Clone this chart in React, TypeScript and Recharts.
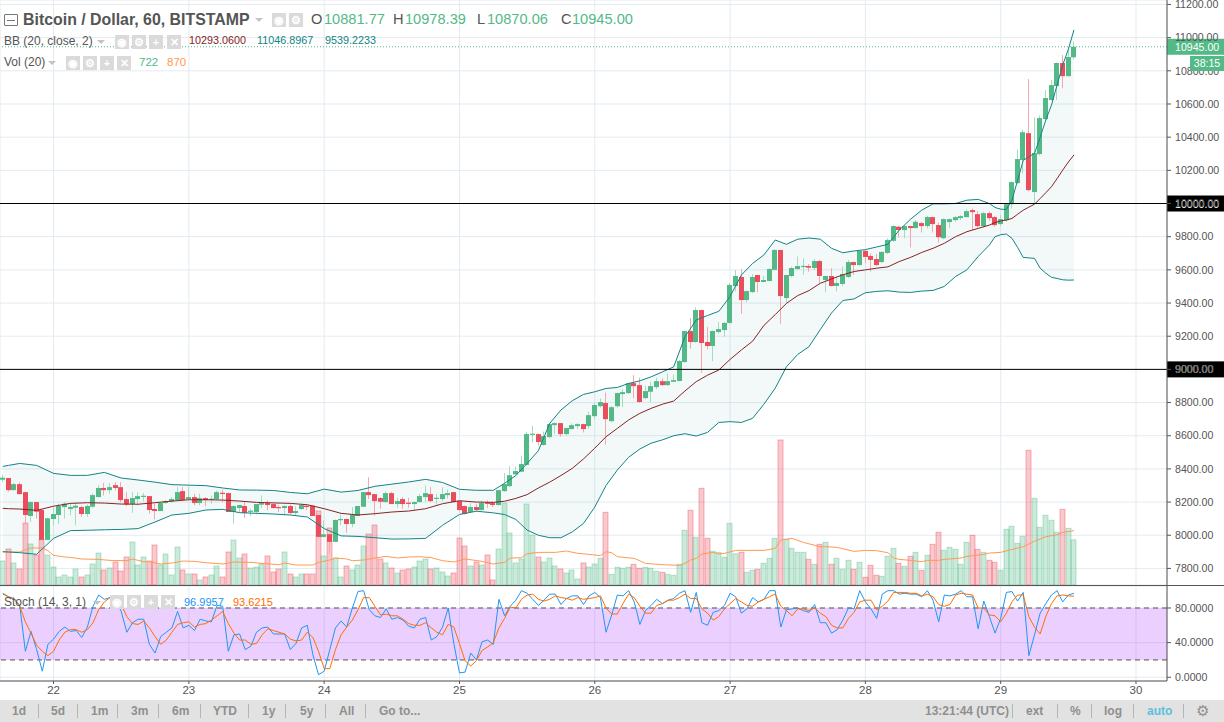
import React from "react";
import {
  ComposedChart, Bar, Line, Area, XAxis, YAxis, CartesianGrid,
  ReferenceLine, ReferenceArea, Label,
} from "recharts";

const opens = [
  8335,8345,8272,8308,8260,8116,8200,8152,7972,8098,
  8122,8170,8158,8166,8170,8128,8172,8230,8285,8272,
  8302,8290,8218,8188,8218,8234,8236,8158,8146,8194,
  8202,8212,8266,8218,8230,8194,8224,8216,8218,8256,
  8254,8140,8164,8176,8144,8140,8184,8194,8188,8170,
  8164,8176,8134,8158,8178,8178,8122,7990,8006,7960,
  8094,8098,8068,8116,8172,8260,8248,8224,8200,8254,
  8188,8218,8196,8188,8200,8230,8248,8222,8218,8242,
  8260,8206,8176,8140,8170,8152,8196,8194,8182,8266,
  8296,8367,8383,8424,8606,8610,8544,8592,8664,8676,
  8610,8640,8658,8670,8658,8718,8778,8797,8688,8778,
  8851,8857,8917,8905,8827,8865,8893,8929,8905,8925,
  8930,9044,9231,9165,9358,9165,9141,9225,9237,9280,
  9502,9557,9418,9466,9569,9527,9533,9600,9720,9430,
  9563,9605,9620,9623,9611,9653,9539,9563,9503,9515,
  9557,9647,9629,9714,9684,9665,9647,9702,9775,9860,
  9840,9864,9852,9882,9864,9918,9870,9791,9888,9900,
  9912,9918,9960,9936,9864,9942,9918,9876,9900,9996,
  10123,10262,10424,10069,10298,10509,10624,10708,10847,10768,10881.77,
];
const closes = [
  8347,8272,8308,8248,8122,8200,8142,7972,8102,8128,
  8176,8190,8170,8178,8128,8176,8242,8285,8272,8290,
  8285,8212,8186,8224,8236,8238,8152,8146,8194,8206,
  8218,8260,8212,8230,8194,8224,8212,8220,8260,8252,
  8140,8176,8182,8134,8148,8188,8194,8182,8164,8166,
  8176,8134,8146,8182,8170,8116,7990,8006,7960,8092,
  8098,8068,8122,8176,8260,8242,8206,8202,8254,8188,
  8206,8188,8192,8200,8236,8254,8206,8226,8248,8254,
  8200,8152,8128,8170,8152,8194,8192,8182,8272,8308,
  8362,8387,8429,8610,8612,8562,8598,8670,8676,8610,
  8646,8664,8670,8640,8724,8785,8803,8700,8772,8857,
  8863,8917,8899,8803,8869,8899,8929,8905,8929,8935,
  9050,9231,9165,9358,9159,9141,9231,9243,9280,9509,
  9563,9418,9472,9557,9527,9539,9605,9720,9442,9569,
  9611,9623,9624,9613,9653,9563,9563,9503,9521,9575,
  9647,9629,9714,9678,9660,9629,9708,9780,9864,9840,
  9864,9852,9890,9864,9918,9876,9797,9906,9906,9918,
  9924,9954,9948,9864,9942,9912,9870,9906,9996,10129,
  10268,10430,10081,10304,10515,10636,10714,10847,10768,10883,10945,
];
const highs = [
  8365,8345,8315,8320,8262,8205,8200,8160,8105,8170,
  8190,8200,8195,8200,8178,8186,8250,8302,8315,8315,
  8320,8320,8260,8260,8258,8255,8236,8190,8200,8212,
  8230,8290,8290,8290,8250,8250,8230,8240,8270,8275,
  8258,8180,8182,8200,8160,8190,8240,8210,8195,8180,
  8180,8185,8175,8190,8180,8178,8125,8090,8010,8095,
  8125,8100,8170,8178,8260,8350,8250,8230,8262,8262,
  8225,8230,8225,8205,8250,8300,8290,8250,8290,8275,
  8262,8206,8180,8195,8190,8210,8210,8205,8275,8375,
  8417,8415,8480,8624,8660,8612,8625,8680,8680,8676,
  8650,8675,8676,8672,8745,8800,8825,8860,8780,8860,
  8880,8920,8965,8950,8900,8925,8950,8945,8975,8970,
  9056,9235,9310,9375,9360,9255,9235,9285,9285,9520,
  9600,9605,9475,9575,9570,9565,9610,9725,9720,9570,
  9620,9680,9670,9635,9665,9660,9565,9610,9560,9620,
  9660,9650,9720,9720,9700,9695,9710,9790,9870,9865,
  9870,9866,9900,9890,9925,9920,9885,9910,9910,9925,
  9930,9965,9970,9955,9950,9952,9925,9930,10000,10135,
  10325,10445,10750,10520,10530,10685,10745,10850,10895,10930,10978.39,
];
const lows = [
  8320,8262,8270,8245,8060,8080,8100,7972,7970,8060,
  8065,8100,8120,8060,8110,8110,8165,8228,8240,8250,
  8270,8200,8175,8135,8180,8205,8130,8095,8146,8190,
  8198,8210,8212,8218,8180,8180,8175,8190,8210,8200,
  8140,8070,8135,8105,8115,8125,8165,8150,8160,8140,
  8120,8125,8120,8155,8150,8115,7988,7985,7890,7958,
  8060,8015,8048,8116,8170,8218,8118,8160,8195,8188,
  8165,8160,8165,8150,8198,8200,8200,8185,8205,8220,
  8200,8145,8125,8135,8140,8148,8165,8170,8180,8262,
  8290,8365,8380,8420,8560,8540,8540,8585,8610,8594,
  8600,8640,8640,8620,8640,8700,8770,8546,8680,8770,
  8772,8850,8825,8800,8820,8800,8880,8900,8900,8925,
  8928,9040,9125,9160,8980,9120,9050,9215,9195,9275,
  9470,9335,9405,9460,9465,9525,9530,9595,9275,9400,
  9555,9600,9570,9590,9600,9520,9465,9500,9470,9500,
  9550,9570,9625,9640,9590,9625,9640,9695,9770,9795,
  9790,9735,9850,9825,9850,9825,9765,9785,9850,9890,
  9900,9915,9840,9855,9855,9895,9860,9865,9890,9970,
  10120,10180,10075,9995,10290,10500,10620,10625,10695,10765,10870.06,
];
const volumes = [
  384,576,352,256,992,656,480,725,480,288,
  128,160,128,256,128,160,336,512,240,272,
  368,224,448,688,320,448,384,640,320,496,
  160,608,240,176,176,80,128,160,304,128,
  528,720,432,496,272,288,336,464,208,256,
  528,176,128,176,176,176,1184,464,912,432,
  128,304,240,320,624,816,960,416,352,272,
  192,240,256,288,384,416,256,272,208,144,
  192,752,624,304,368,320,480,80,576,1312,
  832,352,416,1296,800,448,368,432,304,256,
  192,240,96,352,288,336,427,1163,171,283,
  267,283,331,267,283,267,219,203,171,155,
  331,875,1195,763,1547,747,539,523,443,987,
  500,523,203,235,251,347,427,747,2320,731,
  587,523,523,411,331,651,683,331,427,251,
  395,251,363,123,315,155,139,459,587,347,
  299,459,523,235,475,651,843,555,603,571,
  331,683,795,571,523,395,363,235,891,939,
  667,779,2155,1387,923,1115,1035,843,1211,907,722,
];
const volMaIndex = [
  0,1,3,4,5,7,8,9,11,12,14,17,19,22,23,25,26,28,30,32,34,36,39,41,44,46,49,50,52,55,56,58,59,61,62,64,66,68,70,72,74,76,78,80,82,83,85,87,89,90,92,93,95,98,100,102,104,106,107,108,109,112,114,117,120,121,122,123,124,126,127,128,130,135,137,138,140,142,145,146,148,151,153,155,157,158,159,161,163,164,166,167,170,171,174,175,177,179,181,183,185,187,188,190,
];
const volMaValues = [
  528,528,528,565,592,592,549,474,448,442,416,410,394,389,416,373,373,336,352,384,378,357,336,368,362,346,325,352,320,320,362,400,432,416,389,400,432,458,432,448,453,437,389,368,416,405,378,336,362,432,437,501,522,522,544,506,490,470,533,517,453,426,346,325,314,346,400,426,496,522,496,506,554,554,586,720,746,682,613,613,602,538,554,549,517,432,410,394,373,394,394,410,432,458,490,512,522,570,613,700,773,805,842,870,
];
const bbIndex = [
  0,1,3,6,9,12,15,18,21,24,27,30,33,36,39,42,45,48,51,54,57,60,63,66,69,72,75,78,81,84,87,
  89,91,93,95,97,99,101,103,105,107,109,111,113,115,117,119,121,123,125,127,129,131,133,135,137,139,141,143,145,147,149,151,153,155,157,159,161,163,165,167,169,171,173,175,
  176,177,178,179,180,181,182,183,184,185,186,187,188,189,190,
];
const bbUpper = [
  8415,8421,8433,8421,8373,8361,8361,8379,8345,8333,8320,8305,8302,8299,8285,8273,8272,8270,8258,8250,8278,8260,8270,8295,8308,8321,8337,8318,8277,8271,8271,
  8313,8360,8433,8510,8674,8755,8811,8849,8865,8885,8891,8915,8931,8955,8985,9015,9197,9298,9325,9350,9440,9569,9639,9690,9780,9754,9785,9792,9785,9730,9703,9714,9722,9738,9754,9840,9905,9960,9998,9998,10000,10020,10025,10000,
  9976,9966,9964,10020,10140,10260,10282,10302,10400,10503,10593,10714,10835,10930,11047,
];
const bbLower = [
  7901,7899,7895,7885,7981,8028,8030,8033,8035,8040,8080,8122,8132,8152,8156,8136,8132,8128,8122,8110,8040,7996,7993,7985,7977,7978,7981,8060,8125,8145,8135,
  8125,8095,8031,8000,7985,7985,8020,8071,8170,8300,8393,8470,8520,8555,8575,8600,8612,8598,8620,8680,8685,8680,8705,8790,8886,9016,9090,9137,9240,9340,9415,9425,9462,9470,9474,9466,9464,9472,9476,9500,9560,9600,9680,9750,
  9800,9812,9816,9790,9735,9675,9672,9669,9610,9580,9555,9548,9540,9538,9539,
];
const bbBasis = [
  8162,8160,8158,8150,8175,8192,8196,8194,8188,8187,8196,8206,8214,8214,8212,8206,8198,8195,8192,8184,8160,8132,8122,8130,8140,8146,8160,8190,8208,8200,8198,
  8205,8222,8245,8285,8320,8360,8403,8460,8525,8594,8644,8695,8735,8765,8790,8809,8870,8926,8965,8996,9060,9117,9170,9265,9330,9398,9445,9475,9519,9545,9570,9590,9600,9610,9618,9650,9675,9705,9730,9760,9800,9830,9850,9870,
  9885,9895,9900,9910,9935,9960,9978,9996,10030,10065,10101,10150,10201,10250,10293,
];
const stochK = [
  97,93,91,83,30,53,32,7,38,44,53,58,53,54,46,58,82,95,90,92,90,76,52,63,67,67,38,28,47,52,
  57,76,57,60,54,67,65,64,83,82,30,49,50,32,36,52,57,58,50,50,50,32,39,57,60,26,3,7,32,57,
  65,58,80,99,100,78,71,69,79,67,69,66,59,57,67,69,43,47,58,80,39,5,6,28,20,41,43,38,90,71,
  82,89,100,97,90,83,89,96,96,84,91,94,94,84,94,98,92,52,72,95,94,100,87,61,77,83,90,85,89,91,
  97,100,75,98,63,60,75,77,83,97,93,74,79,92,87,90,100,100,58,78,79,80,77,75,84,63,63,51,55,66,
  80,79,100,87,79,68,96,100,100,96,97,96,96,93,100,89,64,95,94,96,100,93,93,56,88,70,51,68,98,99,
  88,98,25,49,74,85,95,100,87,95,97,
];
const stochD = [
  96,93,90,82,64,51,37,30,25,30,43,52,55,55,52,55,63,78,87,92,91,84,70,62,61,65,57,47,38,43,
  52,61,63,64,58,61,62,66,71,76,62,51,43,43,38,39,49,56,54,52,50,44,42,43,52,46,30,10,10,32,
  49,58,66,78,92,92,82,72,73,71,71,67,62,60,60,63,57,52,49,61,58,39,19,13,19,31,35,40,57,68,
  81,80,90,95,96,90,88,90,94,92,91,89,92,90,91,92,94,80,73,73,85,96,92,82,74,74,83,85,89,89,
  92,96,91,91,79,74,66,70,79,85,91,87,83,82,87,90,93,96,82,77,71,79,79,77,80,74,70,60,57,57,
  68,75,87,89,89,78,82,88,98,98,98,97,97,94,96,93,84,82,84,95,97,96,95,80,80,72,71,64,74,87,
  95,95,70,58,50,70,85,94,95,94,93.6,
];
const priceTicks = [7800,8000,8200,8400,8600,8800,9000,9200,9400,9600,9800,10000,10200,10400,10600,10800,11000,11200];
const stochTicks = [0,40,80];
const dayLabels = ["22","23","24","25","26","27","28","29","30"];
const dayIndex = [9,33,57,81,105,129,153,177,201];
const rangeButtons = ["1d","5d","1m","3m","6m","YTD","1y","5y","All","Go to..."];
const lastPrice = 10945;
const levels = [10000, 9000];

const UP = "#53b987";
const DOWN = "#eb4d5c";
const ROW_COUNT = 207;
const FONT = '"Liberation Sans", Arial, sans-serif';
const GRID = "#e3ebf1";
const AXIS = "#555555";

const rows = Array.from({ length: ROW_COUNT }, (_, k) => {
  const row: any = { k };
  if (k < opens.length) {
    row.o = opens[k]; row.c = closes[k]; row.h = highs[k]; row.l = lows[k];
    row.candle = [lows[k], highs[k]];
    row.vol = volumes[k];
    row.stK = stochK[k]; row.stD = stochD[k];
  }
  return row;
});
volMaIndex.forEach((k, i) => { rows[k].volMa = volMaValues[i]; });
bbIndex.forEach((k, i) => {
  rows[k].upper = bbUpper[i];
  rows[k].lower = bbLower[i];
  rows[k].basis = bbBasis[i];
  rows[k].band = [bbLower[i], bbUpper[i]];
});

const CandleShape = (p: any) => {
  const r = p.payload;
  if (!r || r.o == null) return null;
  const span = r.h - r.l || 1;
  const toY = (v: number) => p.y + (p.height * (r.h - v)) / span;
  const up = r.c >= r.o;
  const cx = Math.floor(p.x + p.width / 2) + 0.5;
  const top = toY(Math.max(r.o, r.c));
  const bottom = toY(Math.min(r.o, r.c));
  return (
    <g>
      <line x1={cx} x2={cx} y1={p.y} y2={p.y + p.height} stroke={up ? "#a5dcc2" : "#f5a6ae"} strokeWidth={1} />
      <rect x={cx - 2.5} width={5} y={top} height={Math.max(bottom - top, 1.2)} fill={up ? UP : DOWN} />
    </g>
  );
};

const VolumeShape = (p: any) => {
  const r = p.payload;
  if (!r || r.o == null) return null;
  const up = r.c >= r.o;
  const cx = Math.floor(p.x + p.width / 2) + 0.5;
  return (
    <rect
      x={cx - 2.5} width={5} y={p.y} height={p.height}
      fill={up ? "rgba(83,185,135,0.3)" : "rgba(235,77,92,0.3)"}
      stroke={up ? "rgba(83,185,135,0.38)" : "rgba(235,77,92,0.42)"}
      strokeWidth={1}
    />
  );
};

const priceTag = (bg: string, text: string) => (p: any) => {
  const vb = p.viewBox;
  return (
    <g>
      <rect x={vb.x + vb.width} y={vb.y - 8} width={57} height={16} fill={bg} />
      <text x={vb.x + vb.width + 8} y={vb.y + 4} fontSize={10.6} fontFamily={FONT} fill="#ffffff">{text}</text>
    </g>
  );
};

const abs = (x: number, y: number, extra: React.CSSProperties = {}): React.CSSProperties => ({
  position: "absolute", left: x, top: y, whiteSpace: "nowrap", fontFamily: FONT, lineHeight: 1, ...extra,
});

const IconBox = ({ x, y, glyph }: { x: number; y: number; glyph: string }) => (
  <div style={abs(x, y, {
    width: 14, height: 14, background: "#dadada", color: "#ffffff", fontSize: 11,
    textAlign: "center", lineHeight: "14px", fontWeight: 700,
  })}>{glyph}</div>
);

const Caret = ({ x, y }: { x: number; y: number }) => (
  <div style={abs(x, y, {
    width: 0, height: 0, borderLeft: "4px solid transparent", borderRight: "4px solid transparent",
    borderTop: "4px solid #c4c4c4",
  })} />
);

const rangeX = [12, 51, 91, 131, 172, 213, 262, 300, 339, 379];
const rangeSep = [38, 77, 117, 158, 200, 248, 285, 325, 365];
const rightSep = [1012, 1057, 1091, 1133, 1183];
const glyphs = ["◉", "⚙", "+", "✕"];

export default function App() {
  return (
    <div style={{ position: "absolute", left: 0, top: 0, width: 1224, height: 722, background: "#fff", overflow: "hidden" }}>
      <div style={{ position: "absolute", left: 0, top: 0 }}>
        <ComposedChart width={1224} height={585} data={rows} margin={{ top: 0, right: 0, bottom: 0, left: 0 }} barCategoryGap={0}>
          <XAxis xAxisId="k" dataKey="k" hide scale="band" ticks={dayIndex} interval={0} />
          <XAxis xAxisId="v" dataKey="k" hide scale="band" />
          <YAxis
            yAxisId="p" orientation="right" width={57} type="number" domain={[7700, 11227]} allowDataOverflow
            ticks={priceTicks} interval={0} tickFormatter={(v: number) => v.toFixed(2)}
            stroke={AXIS} tickLine={{ stroke: AXIS }} tickSize={4} tickMargin={4}
            tick={{ fontSize: 10.6, fontFamily: FONT, fill: "#555555" }}
          />
          <YAxis yAxisId="vol" hide type="number" domain={[0, 9360]} allowDataOverflow />
          <CartesianGrid xAxisId="k" yAxisId="p" stroke={GRID} strokeWidth={1} />
          <Bar xAxisId="v" yAxisId="vol" dataKey="vol" barSize={5} shape={VolumeShape} isAnimationActive={false} />
          <Line xAxisId="k" yAxisId="vol" dataKey="volMa" stroke="#ff9a52" strokeWidth={1} dot={false} activeDot={false} connectNulls isAnimationActive={false} />
          <Area xAxisId="k" yAxisId="p" dataKey="band" stroke="none" fill="#138484" fillOpacity={0.05} connectNulls dot={false} activeDot={false} isAnimationActive={false} />
          <Line xAxisId="k" yAxisId="p" dataKey="upper" stroke="#138484" strokeWidth={1} dot={false} activeDot={false} connectNulls isAnimationActive={false} />
          <Line xAxisId="k" yAxisId="p" dataKey="lower" stroke="#138484" strokeWidth={1} dot={false} activeDot={false} connectNulls isAnimationActive={false} />
          <Line xAxisId="k" yAxisId="p" dataKey="basis" stroke="#872323" strokeWidth={1} dot={false} activeDot={false} connectNulls isAnimationActive={false} />
          <Bar xAxisId="k" yAxisId="p" dataKey="candle" barSize={5} shape={CandleShape} isAnimationActive={false} />
          <ReferenceLine xAxisId="k" yAxisId="p" y={lastPrice} stroke={UP} strokeDasharray="1 2">
            <Label content={priceTag(UP, lastPrice.toFixed(2))} />
          </ReferenceLine>
          {levels.map((lv) => (
            <ReferenceLine key={lv} xAxisId="k" yAxisId="p" y={lv} stroke="#000000" strokeWidth={1}>
              <Label content={priceTag("#000000", lv.toFixed(2))} />
            </ReferenceLine>
          ))}
        </ComposedChart>
      </div>

      <div style={{ position: "absolute", left: 0, top: 585, width: 1224, height: 1, background: AXIS }} />

      <div style={{ position: "absolute", left: 0, top: 586 }}>
        <ComposedChart width={1224} height={114} data={rows} margin={{ top: 0, right: 0, bottom: 0, left: 0 }}>
          <XAxis
            dataKey="k" height={19} scale="band" ticks={dayIndex} interval={0}
            tickFormatter={(v: number) => dayLabels[dayIndex.indexOf(v)]}
            stroke={AXIS} tickLine={{ stroke: AXIS }} tickSize={3} tickMargin={2}
            tick={{ fontSize: 11.5, fontFamily: FONT, fill: "#555555" }}
          />
          <YAxis
            orientation="right" width={57} type="number" domain={[-4.3, 105.4]} allowDataOverflow
            ticks={stochTicks} interval={0} tickFormatter={(v: number) => v.toFixed(4)}
            stroke={AXIS} tickLine={{ stroke: AXIS }} tickSize={4} tickMargin={4}
            tick={{ fontSize: 10.6, fontFamily: FONT, fill: "#555555" }}
          />
          <CartesianGrid stroke={GRID} strokeWidth={1} />
          <ReferenceArea y1={20} y2={80} fill="#9915ff" fillOpacity={0.2} stroke="none" />
          <ReferenceLine y={80} stroke="#555555" strokeDasharray="5 4" />
          <ReferenceLine y={20} stroke="#555555" strokeDasharray="5 4" />
          <Line dataKey="stK" stroke="#2196f3" strokeWidth={1} dot={false} activeDot={false} isAnimationActive={false} />
          <Line dataKey="stD" stroke="#ff6d00" strokeWidth={1} dot={false} activeDot={false} isAnimationActive={false} />
        </ComposedChart>
      </div>

      {/* legend overlays */}
      <div style={abs(4, 14, { width: 12, height: 10, border: "1px solid #777", borderRadius: 1 })}>
        <div style={{ position: "absolute", left: 2, right: 2, top: 4.5, height: 1, background: "#777" }} />
      </div>
      <div style={abs(23, 12, { fontSize: 15.9, fontWeight: 700, color: "#555555" })}>Bitcoin / Dollar, 60, BITSTAMP</div>
      <Caret x={255} y={18} />
      <IconBox x={272} y={13} glyph="◉" />
      <IconBox x={289} y={13} glyph="⚙" />
      {[["O", "10881.77", 311, 324], ["H", "10978.39", 393, 405], ["L", "10870.06", 477, 487], ["C", "10945.00", 561, 572]].map(([a, b, x1, x2]) => (
        <React.Fragment key={a as string}>
          <div style={abs(x1 as number, 12, { fontSize: 14.6, color: "#555555" })}>{a}</div>
          <div style={abs(x2 as number, 12, { fontSize: 14.6, color: UP })}>{b}</div>
        </React.Fragment>
      ))}

      <div style={abs(4, 35, { fontSize: 12, color: "#555555" })}>BB (20, close, 2)</div>
      <Caret x={97} y={40} />
      {[115, 132, 149, 167].map((x, i) => <IconBox key={x} x={x} y={35} glyph={glyphs[i]} />)}
      <div style={abs(189, 35, { fontSize: 10.8, color: "#872323" })}>10293.0600</div>
      <div style={abs(257, 35, { fontSize: 10.8, color: "#138484" })}>11046.8967</div>
      <div style={abs(325, 35, { fontSize: 10.8, color: "#138484" })}>9539.2233</div>

      <div style={abs(4, 56, { fontSize: 12, color: "#555555" })}>Vol (20)</div>
      <Caret x={48} y={61} />
      {[66, 83, 100, 117].map((x, i) => <IconBox key={x} x={x} y={56} glyph={glyphs[i]} />)}
      <div style={abs(139, 57, { fontSize: 11.5, color: UP })}>722</div>
      <div style={abs(167, 57, { fontSize: 11.5, color: "#ff9a52" })}>870</div>

      <div style={abs(1190, 56, { width: 34, height: 15, background: UP, color: "#fff", fontSize: 10.6, lineHeight: "15px", textAlign: "center" })}>38:15</div>

      <div style={abs(4, 596, { fontSize: 12, color: "#555555" })}>Stoch (14, 3, 1)</div>
      <Caret x={93} y={601} />
      {[110, 127, 144, 161].map((x, i) => <IconBox key={x} x={x} y={595} glyph={glyphs[i]} />)}
      <div style={abs(184, 597, { fontSize: 11, color: "#2196f3" })}>96.9957</div>
      <div style={abs(233, 597, { fontSize: 11, color: "#ff6d00" })}>93.6215</div>

      {/* toolbar */}
      <div style={{ position: "absolute", left: 0, top: 700, width: 1224, height: 22, background: "#e2e2e2" }} />
      {rangeButtons.map((t, i) => (
        <div key={t} style={abs(rangeX[i], 705, { fontSize: 12, color: "#8f8f8f", fontWeight: 700 })}>{t}</div>
      ))}
      {[...rangeSep, ...rightSep].map((x) => (
        <div key={x} style={{ position: "absolute", left: x, top: 704, width: 1, height: 14, background: "#b5b5b5" }} />
      ))}
      <div style={abs(925, 705, { fontSize: 12, color: "#8f8f8f", fontWeight: 700 })}>13:21:44 (UTC)</div>
      <div style={abs(1026, 705, { fontSize: 12, color: "#8f8f8f", fontWeight: 700 })}>ext</div>
      <div style={abs(1070, 705, { fontSize: 12, color: "#8f8f8f", fontWeight: 700 })}>%</div>
      <div style={abs(1104, 705, { fontSize: 12, color: "#8f8f8f", fontWeight: 700 })}>log</div>
      <div style={abs(1147, 705, { fontSize: 12, color: "#5bc0de", fontWeight: 700 })}>auto</div>
      <div style={abs(1196, 703, { fontSize: 15, color: "#8f8f8f" })}>⚙</div>
    </div>
  );
}
